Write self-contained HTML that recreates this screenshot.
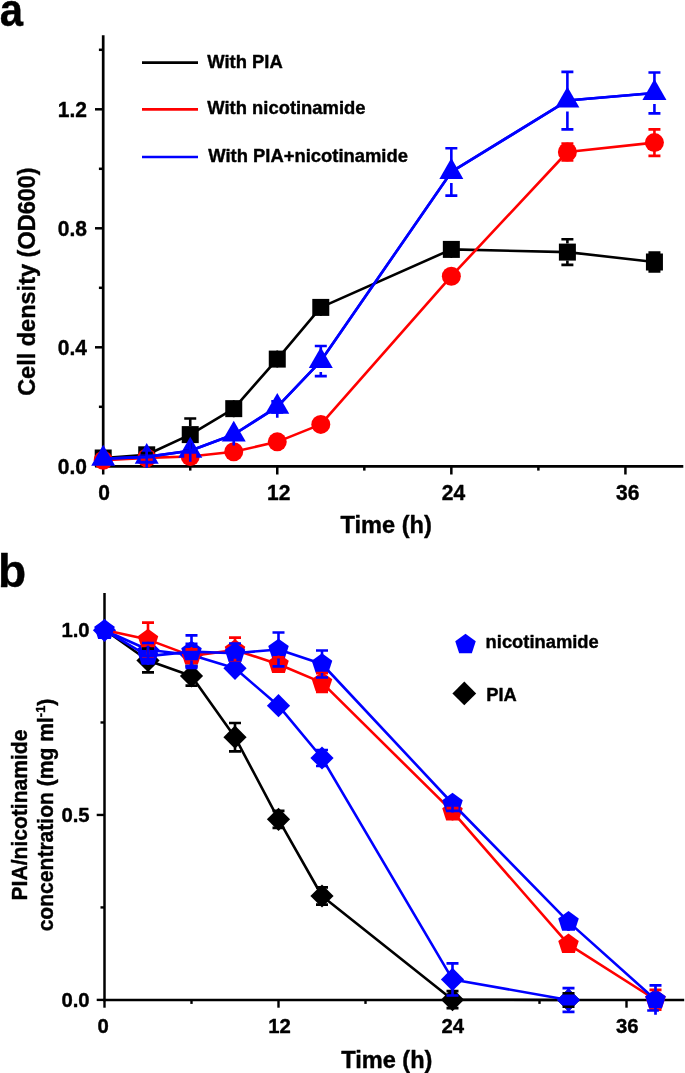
<!DOCTYPE html>
<html lang="en">
<head>
<meta charset="utf-8">
<title>Cell density and PIA/nicotinamide concentration</title>
<style>
html,body{margin:0;padding:0;background:#fff;}
body{width:685px;height:1073px;overflow:hidden;}
svg{display:block;}
svg text{font-family:"Liberation Sans",Arial,Helvetica,sans-serif;font-weight:bold;fill:#000;stroke:#000;stroke-width:0.4px;stroke-linejoin:round;}
</style>
</head>
<body>
<svg width="685" height="1073" viewBox="0 0 685 1073" role="img" aria-label="Growth curves and substrate concentration charts">
<rect width="685" height="1073" fill="#fff"/>
<!-- panel labels -->
<text font-size="46" transform="translate(-0.3,26.3) scale(0.91,1.01)">a</text>
<text x="-2" y="586.5" font-size="46">b</text>
<!-- panel a: axes -->
<g stroke="#000" stroke-width="2.7" fill="none">
<line x1="103.2" y1="35.2" x2="103.2" y2="467.65"/>
<line x1="101.85" y1="466.3" x2="683.3" y2="466.3"/>
</g>
<g stroke="#000" stroke-width="2.5" fill="none">
<line x1="103.2" y1="466.3" x2="103.2" y2="474.5"/>
<line x1="277.27" y1="466.3" x2="277.27" y2="474.5"/>
<line x1="451.34" y1="466.3" x2="451.34" y2="474.5"/>
<line x1="625.42" y1="466.3" x2="625.42" y2="474.5"/>
<line x1="190.24" y1="466.3" x2="190.24" y2="470.6"/>
<line x1="364.31" y1="466.3" x2="364.31" y2="470.6"/>
<line x1="538.38" y1="466.3" x2="538.38" y2="470.6"/>
<line x1="103.2" y1="466.3" x2="95" y2="466.3"/>
<line x1="103.2" y1="347.3" x2="95" y2="347.3"/>
<line x1="103.2" y1="228.3" x2="95" y2="228.3"/>
<line x1="103.2" y1="109.3" x2="95" y2="109.3"/>
<line x1="103.2" y1="406.8" x2="98.9" y2="406.8"/>
<line x1="103.2" y1="287.8" x2="98.9" y2="287.8"/>
<line x1="103.2" y1="168.8" x2="98.9" y2="168.8"/>
<line x1="103.2" y1="49.8" x2="98.9" y2="49.8"/>
</g>
<!-- panel a: tick labels and titles -->
<text transform="translate(87,474.2) scale(0.955,1)" font-size="22" text-anchor="end">0.0</text>
<text transform="translate(87,355.2) scale(0.955,1)" font-size="22" text-anchor="end">0.4</text>
<text transform="translate(87,236.2) scale(0.955,1)" font-size="22" text-anchor="end">0.8</text>
<text transform="translate(87,117.2) scale(0.955,1)" font-size="22" text-anchor="end">1.2</text>
<text transform="translate(104.2,500.2) scale(0.955,1)" font-size="22" text-anchor="middle">0</text>
<text transform="translate(278.67,500.2) scale(0.955,1)" font-size="22" text-anchor="middle">12</text>
<text transform="translate(453.44,500.2) scale(0.955,1)" font-size="22" text-anchor="middle">24</text>
<text transform="translate(627.72,500.2) scale(0.955,1)" font-size="22" text-anchor="middle">36</text>
<text transform="translate(386.2,533.3) scale(1.025,1)" font-size="23" text-anchor="middle">Time (h)</text>
<text font-size="23" text-anchor="middle" transform="translate(35,281.6) rotate(-90) scale(1.022,1)">Cell density (OD600)</text>
<!-- panel a: legend -->
<line x1="142" y1="62.6" x2="198" y2="62.6" stroke="#000000" stroke-width="2.6"/>
<text x="207.3" y="67.5" font-size="18.4">With PIA</text>
<line x1="142" y1="109.4" x2="198" y2="109.4" stroke="#ff0000" stroke-width="2.6"/>
<text x="207.3" y="114.3" font-size="18.4">With nicotinamide</text>
<line x1="142" y1="157" x2="198" y2="157" stroke="#0000ff" stroke-width="2.6"/>
<text x="208.3" y="161.9" font-size="18.4">With PIA+nicotinamide</text>
<!-- panel a: With PIA -->
<polyline points="103.2,458 146.72,454.8 190.24,434.6 233.75,408.65 277.27,359.1 320.79,307.4 451.34,249.4 567.39,252.1 654.43,262" stroke="#000000" stroke-width="2.6" fill="none" stroke-linejoin="round"/>
<rect x="94.7" y="449.5" width="17" height="17" fill="#000000"/>
<rect x="138.22" y="446.3" width="17" height="17" fill="#000000"/>
<rect x="181.74" y="426.1" width="17" height="17" fill="#000000"/>
<rect x="225.25" y="400.15" width="17" height="17" fill="#000000"/>
<rect x="268.77" y="350.6" width="17" height="17" fill="#000000"/>
<rect x="312.29" y="298.9" width="17" height="17" fill="#000000"/>
<rect x="442.84" y="240.9" width="17" height="17" fill="#000000"/>
<rect x="558.89" y="243.6" width="17" height="17" fill="#000000"/>
<rect x="645.93" y="253.5" width="17" height="17" fill="#000000"/>
<!-- panel a: With nicotinamide -->
<polyline points="103.2,460.3 146.72,457.9 190.24,456.5 233.75,451.8 277.27,441.85 320.79,424.4 451.34,276.2 567.39,152 654.43,142.6" stroke="#ff0000" stroke-width="2.6" fill="none" stroke-linejoin="round"/>
<circle cx="103.2" cy="460.3" r="9.5" fill="#ff0000"/>
<circle cx="146.72" cy="457.9" r="9.5" fill="#ff0000"/>
<circle cx="190.24" cy="456.5" r="9.5" fill="#ff0000"/>
<circle cx="233.75" cy="451.8" r="9.5" fill="#ff0000"/>
<circle cx="277.27" cy="441.85" r="9.5" fill="#ff0000"/>
<circle cx="320.79" cy="424.4" r="9.5" fill="#ff0000"/>
<circle cx="451.34" cy="276.2" r="9.5" fill="#ff0000"/>
<circle cx="567.39" cy="152" r="9.5" fill="#ff0000"/>
<circle cx="654.43" cy="142.6" r="9.5" fill="#ff0000"/>
<!-- panel a: With PIA+nicotinamide -->
<polyline points="103.2,458.7 146.72,456.9 190.24,450.7 233.75,434.5 277.27,406.8 320.79,361.05 451.34,171.97 567.39,100.55 654.43,92.95" stroke="#0000ff" stroke-width="2.6" fill="none" stroke-linejoin="round"/>
<polygon points="103.2,444.83 115.2,465.63 91.2,465.63" fill="#0000ff"/>
<polygon points="146.72,443.03 158.72,463.83 134.72,463.83" fill="#0000ff"/>
<polygon points="190.24,436.83 202.24,457.63 178.24,457.63" fill="#0000ff"/>
<polygon points="233.75,420.63 245.75,441.43 221.75,441.43" fill="#0000ff"/>
<polygon points="277.27,392.93 289.27,413.73 265.27,413.73" fill="#0000ff"/>
<polygon points="320.79,347.18 332.79,367.98 308.79,367.98" fill="#0000ff"/>
<polygon points="451.34,158.1 463.34,178.9 439.34,178.9" fill="#0000ff"/>
<polygon points="567.39,86.68 579.39,107.48 555.39,107.48" fill="#0000ff"/>
<polygon points="654.43,79.08 666.43,99.88 642.43,99.88" fill="#0000ff"/>
<!-- panel a: error bars -->
<path d="M146.72 446.3V453.1M146.72 463.3V456.5" stroke="#000000" stroke-width="1.8" fill="none"/>
<path d="M140.72 453.1H152.72M140.72 456.5H152.72" stroke="#000000" stroke-width="2.7" fill="none"/>
<path d="M190.24 426.1V418.5M190.24 443.1V450.7" stroke="#000000" stroke-width="2.6" fill="none"/>
<path d="M184.24 418.5H196.24M184.24 450.7H196.24" stroke="#000000" stroke-width="2.7" fill="none"/>
<path d="M233.75 400.15V407.65M233.75 417.15V409.65" stroke="#000000" stroke-width="1.8" fill="none"/>
<path d="M227.75 407.65H239.75M227.75 409.65H239.75" stroke="#000000" stroke-width="2.7" fill="none"/>
<path d="M277.27 350.6V358.1M277.27 367.6V360.1" stroke="#000000" stroke-width="1.8" fill="none"/>
<path d="M271.27 358.1H283.27M271.27 360.1H283.27" stroke="#000000" stroke-width="2.7" fill="none"/>
<path d="M320.79 298.9V306.4M320.79 315.9V308.4" stroke="#000000" stroke-width="1.8" fill="none"/>
<path d="M314.79 306.4H326.79M314.79 308.4H326.79" stroke="#000000" stroke-width="2.7" fill="none"/>
<path d="M451.34 240.9V248.4M451.34 257.9V250.4" stroke="#000000" stroke-width="1.8" fill="none"/>
<path d="M445.34 248.4H457.34M445.34 250.4H457.34" stroke="#000000" stroke-width="2.7" fill="none"/>
<path d="M567.39 243.6V239.25M567.39 260.6V264.95" stroke="#000000" stroke-width="2.6" fill="none"/>
<path d="M561.39 239.25H573.39M561.39 264.95H573.39" stroke="#000000" stroke-width="2.7" fill="none"/>
<path d="M654.43 253.5V252.7M654.43 270.5V271.3" stroke="#000000" stroke-width="2.6" fill="none"/>
<path d="M648.43 252.7H660.43M648.43 271.3H660.43" stroke="#000000" stroke-width="2.7" fill="none"/>
<path d="M146.72 449.4V459.5M146.72 466.4V459.5" stroke="#ff0000" stroke-width="1.8" fill="none"/>
<path d="M140.72 459.5H152.72M140.72 459.5H152.72" stroke="#ff0000" stroke-width="2.7" fill="none"/>
<path d="M190.24 448V455.1M190.24 465V457.9" stroke="#ff0000" stroke-width="1.8" fill="none"/>
<path d="M184.24 455.1H196.24M184.24 457.9H196.24" stroke="#ff0000" stroke-width="2.7" fill="none"/>
<path d="M233.75 443.3V449.8M233.75 460.3V453.8" stroke="#ff0000" stroke-width="1.8" fill="none"/>
<path d="M227.75 449.8H239.75M227.75 453.8H239.75" stroke="#ff0000" stroke-width="2.7" fill="none"/>
<path d="M277.27 433.35V439.85M277.27 450.35V443.85" stroke="#ff0000" stroke-width="1.8" fill="none"/>
<path d="M271.27 439.85H283.27M271.27 443.85H283.27" stroke="#ff0000" stroke-width="2.7" fill="none"/>
<path d="M320.79 415.9V422.4M320.79 432.9V426.4" stroke="#ff0000" stroke-width="1.8" fill="none"/>
<path d="M314.79 422.4H326.79M314.79 426.4H326.79" stroke="#ff0000" stroke-width="2.7" fill="none"/>
<path d="M451.34 267.7V274.2M451.34 284.7V278.2" stroke="#ff0000" stroke-width="1.8" fill="none"/>
<path d="M445.34 274.2H457.34M445.34 278.2H457.34" stroke="#ff0000" stroke-width="2.7" fill="none"/>
<path d="M567.39 143.5V143.5M567.39 160.5V160.5" stroke="#ff0000" stroke-width="2.6" fill="none"/>
<path d="M561.39 143.5H573.39M561.39 160.5H573.39" stroke="#ff0000" stroke-width="2.7" fill="none"/>
<path d="M654.43 134.1V129.3M654.43 151.1V155.9" stroke="#ff0000" stroke-width="2.6" fill="none"/>
<path d="M648.43 129.3H660.43M648.43 155.9H660.43" stroke="#ff0000" stroke-width="2.7" fill="none"/>
<polyline points="103.2,458.7 146.72,456.9 190.24,450.7 233.75,434.5 277.27,406.8 320.79,361.05 451.34,171.97 567.39,100.55 654.43,92.95" stroke="#0000ff" stroke-width="2.6" fill="none" stroke-linejoin="round"/>
<path d="M146.72 445.9V456.9M146.72 467.9V456.9" stroke="#0000ff" stroke-width="2.6" fill="none"/>
<path d="M140.72 456.9H152.72M140.72 456.9H152.72" stroke="#0000ff" stroke-width="2.7" fill="none"/>
<path d="M190.24 439.7V450.7M190.24 461.7V450.7" stroke="#0000ff" stroke-width="2.6" fill="none"/>
<path d="M184.24 450.7H196.24M184.24 450.7H196.24" stroke="#0000ff" stroke-width="2.7" fill="none"/>
<path d="M233.75 423.5V434.5M233.75 445.5V434.5" stroke="#0000ff" stroke-width="2.6" fill="none"/>
<path d="M227.75 434.5H239.75M227.75 434.5H239.75" stroke="#0000ff" stroke-width="2.7" fill="none"/>
<path d="M277.27 395.8V401.3M277.27 417.8V412.3" stroke="#0000ff" stroke-width="2.6" fill="none"/>
<path d="M271.27 401.3H283.27M271.27 412.3H283.27" stroke="#0000ff" stroke-width="2.7" fill="none"/>
<path d="M320.79 350.05V346M320.79 372.05V376.1" stroke="#0000ff" stroke-width="2.6" fill="none"/>
<path d="M314.79 346H326.79M314.79 376.1H326.79" stroke="#0000ff" stroke-width="2.7" fill="none"/>
<path d="M451.34 160.97V148.27M451.34 182.97V195.67" stroke="#0000ff" stroke-width="2.6" fill="none"/>
<path d="M445.34 148.27H457.34M445.34 195.67H457.34" stroke="#0000ff" stroke-width="2.7" fill="none"/>
<path d="M567.39 89.55V71.8M567.39 111.55V129.3" stroke="#0000ff" stroke-width="2.6" fill="none"/>
<path d="M561.39 71.8H573.39M561.39 129.3H573.39" stroke="#0000ff" stroke-width="2.7" fill="none"/>
<path d="M654.43 81.95V72.5M654.43 103.95V113.4" stroke="#0000ff" stroke-width="2.6" fill="none"/>
<path d="M648.43 72.5H660.43M648.43 113.4H660.43" stroke="#0000ff" stroke-width="2.7" fill="none"/>
<!-- panel b: axes -->
<g stroke="#000" stroke-width="2.5" fill="none">
<line x1="104.5" y1="593.1" x2="104.5" y2="1001.15"/>
<line x1="103.25" y1="999.9" x2="684.2" y2="999.9"/>
</g>
<g stroke="#000" stroke-width="2.4" fill="none">
<line x1="104.5" y1="999.9" x2="104.5" y2="1007.7"/>
<line x1="278.5" y1="999.9" x2="278.5" y2="1007.7"/>
<line x1="452.5" y1="999.9" x2="452.5" y2="1007.7"/>
<line x1="626.5" y1="999.9" x2="626.5" y2="1007.7"/>
<line x1="191.5" y1="999.9" x2="191.5" y2="1003.9"/>
<line x1="365.5" y1="999.9" x2="365.5" y2="1003.9"/>
<line x1="539.5" y1="999.9" x2="539.5" y2="1003.9"/>
<line x1="104.5" y1="999.9" x2="96.7" y2="999.9"/>
<line x1="104.5" y1="814.95" x2="96.7" y2="814.95"/>
<line x1="104.5" y1="630" x2="96.7" y2="630"/>
<line x1="104.5" y1="907.42" x2="100.5" y2="907.42"/>
<line x1="104.5" y1="722.48" x2="100.5" y2="722.48"/>
</g>
<!-- panel b: tick labels and titles -->
<text transform="translate(89.6,1007.1) scale(0.967,1)" font-size="21" text-anchor="end">0.0</text>
<text transform="translate(89.6,822.15) scale(0.967,1)" font-size="21" text-anchor="end">0.5</text>
<text transform="translate(89.6,637.2) scale(0.967,1)" font-size="21" text-anchor="end">1.0</text>
<text transform="translate(103.1,1033.1) scale(0.967,1)" font-size="21" text-anchor="middle">0</text>
<text transform="translate(279.6,1033.1) scale(0.967,1)" font-size="21" text-anchor="middle">12</text>
<text transform="translate(452.8,1033.1) scale(0.967,1)" font-size="21" text-anchor="middle">24</text>
<text transform="translate(627.2,1033.1) scale(0.967,1)" font-size="21" text-anchor="middle">36</text>
<text transform="translate(386.8,1067.6) scale(1.025,1)" font-size="23" text-anchor="middle">Time (h)</text>
<text font-size="22" text-anchor="middle" transform="translate(27.3,815) rotate(-90) scale(0.958,1)">PIA/nicotinamide</text>
<text font-size="22" text-anchor="middle" transform="translate(53,815) rotate(-90) scale(0.958,1)">concentration (mg ml<tspan dy="-8.5" font-size="13.5">-1</tspan><tspan dy="8.5">)</tspan></text>
<!-- panel b: legend -->
<polygon points="465.5,633.7 475.77,641.16 471.85,653.24 459.15,653.24 455.23,641.16" fill="#0000ff"/>
<text transform="translate(485.6,647.9) scale(0.992,1)" font-size="18.5">nicotinamide</text>
<polygon points="464.3,681.5 476.2,693.4 464.3,705.3 452.4,693.4" fill="#000000"/>
<text transform="translate(486.2,701.1) scale(0.99,1)" font-size="18.5">PIA</text>
<!-- panel b: PIA (alone) -->
<polyline points="104.5,629.8 148,660.45 191.5,675.9 235,737.2 278.5,819.3 322,896 452.5,999.65 568.5,1000" stroke="#000000" stroke-width="2.6" fill="none" stroke-linejoin="round"/>
<polygon points="148,648.85 159.6,660.45 148,672.05 136.4,660.45" fill="#000000"/>
<polygon points="191.5,664.3 203.1,675.9 191.5,687.5 179.9,675.9" fill="#000000"/>
<polygon points="235,725.6 246.6,737.2 235,748.8 223.4,737.2" fill="#000000"/>
<polygon points="278.5,807.7 290.1,819.3 278.5,830.9 266.9,819.3" fill="#000000"/>
<polygon points="322,884.4 333.6,896 322,907.6 310.4,896" fill="#000000"/>
<polygon points="452.5,988.05 464.1,999.65 452.5,1011.25 440.9,999.65" fill="#000000"/>
<polygon points="568.5,988.4 580.1,1000 568.5,1011.6 556.9,1000" fill="#000000"/>
<!-- panel b: PIA (mixture) -->
<polyline points="104.5,630.3 148,649.8 191.5,655 235,668.3 278.5,705.7 322,758 452.5,979.45 568.5,1000" stroke="#0000ff" stroke-width="2.6" fill="none" stroke-linejoin="round"/>
<polygon points="104.5,618.7 116.1,630.3 104.5,641.9 92.9,630.3" fill="#0000ff"/>
<polygon points="148,638.2 159.6,649.8 148,661.4 136.4,649.8" fill="#0000ff"/>
<polygon points="191.5,643.4 203.1,655 191.5,666.6 179.9,655" fill="#0000ff"/>
<polygon points="235,656.7 246.6,668.3 235,679.9 223.4,668.3" fill="#0000ff"/>
<polygon points="278.5,694.1 290.1,705.7 278.5,717.3 266.9,705.7" fill="#0000ff"/>
<polygon points="322,746.4 333.6,758 322,769.6 310.4,758" fill="#0000ff"/>
<polygon points="452.5,967.85 464.1,979.45 452.5,991.05 440.9,979.45" fill="#0000ff"/>
<polygon points="568.5,988.4 580.1,1000 568.5,1011.6 556.9,1000" fill="#0000ff"/>
<!-- panel b: nicotinamide (alone) -->
<polyline points="104.5,630 148,639.6 191.5,655.85 235,650 278.5,664.2 322,682.6 452.5,811.7 568.5,944.3 655.5,999.75" stroke="#ff0000" stroke-width="2.6" fill="none" stroke-linejoin="round"/>
<polygon points="148,628.8 158.27,636.26 154.35,648.34 141.65,648.34 137.73,636.26" fill="#ff0000"/>
<polygon points="191.5,645.05 201.77,652.51 197.85,664.59 185.15,664.59 181.23,652.51" fill="#ff0000"/>
<polygon points="235,639.2 245.27,646.66 241.35,658.74 228.65,658.74 224.73,646.66" fill="#ff0000"/>
<polygon points="278.5,653.4 288.77,660.86 284.85,672.94 272.15,672.94 268.23,660.86" fill="#ff0000"/>
<polygon points="322,671.8 332.27,679.26 328.35,691.34 315.65,691.34 311.73,679.26" fill="#ff0000"/>
<polygon points="452.5,800.9 462.77,808.36 458.85,820.44 446.15,820.44 442.23,808.36" fill="#ff0000"/>
<polygon points="568.5,933.5 578.77,940.96 574.85,953.04 562.15,953.04 558.23,940.96" fill="#ff0000"/>
<polygon points="655.5,988.95 665.77,996.41 661.85,1008.49 649.15,1008.49 645.23,996.41" fill="#ff0000"/>
<!-- panel b: nicotinamide (mixture) -->
<polyline points="104.5,630.2 148,656.1 191.5,651.6 235,653.2 278.5,649.45 322,664 452.5,803.5 568.5,921.9 655.5,999.7" stroke="#0000ff" stroke-width="2.6" fill="none" stroke-linejoin="round"/>
<polygon points="104.5,619.4 114.77,626.86 110.85,638.94 98.15,638.94 94.23,626.86" fill="#0000ff"/>
<polygon points="148,645.3 158.27,652.76 154.35,664.84 141.65,664.84 137.73,652.76" fill="#0000ff"/>
<polygon points="191.5,640.8 201.77,648.26 197.85,660.34 185.15,660.34 181.23,648.26" fill="#0000ff"/>
<polygon points="235,642.4 245.27,649.86 241.35,661.94 228.65,661.94 224.73,649.86" fill="#0000ff"/>
<polygon points="278.5,638.65 288.77,646.11 284.85,658.19 272.15,658.19 268.23,646.11" fill="#0000ff"/>
<polygon points="322,653.2 332.27,660.66 328.35,672.74 315.65,672.74 311.73,660.66" fill="#0000ff"/>
<polygon points="452.5,792.7 462.77,800.16 458.85,812.24 446.15,812.24 442.23,800.16" fill="#0000ff"/>
<polygon points="568.5,911.1 578.77,918.56 574.85,930.64 562.15,930.64 558.23,918.56" fill="#0000ff"/>
<polygon points="655.5,988.9 665.77,996.36 661.85,1008.44 649.15,1008.44 645.23,996.36" fill="#0000ff"/>
<!-- panel b: error bars -->
<path d="M148 651.45V648.6M148 669.45V672.3" stroke="#000000" stroke-width="2.6" fill="none"/>
<path d="M142 648.6H154M142 672.3H154" stroke="#000000" stroke-width="2.7" fill="none"/>
<path d="M191.5 666.9V666.1M191.5 684.9V685.7" stroke="#000000" stroke-width="2.6" fill="none"/>
<path d="M185.5 666.1H197.5M185.5 685.7H197.5" stroke="#000000" stroke-width="2.7" fill="none"/>
<path d="M235 728.2V723M235 746.2V751.4" stroke="#000000" stroke-width="2.6" fill="none"/>
<path d="M229 723H241M229 751.4H241" stroke="#000000" stroke-width="2.7" fill="none"/>
<path d="M278.5 810.3V810.8M278.5 828.3V827.8" stroke="#000000" stroke-width="1.8" fill="none"/>
<path d="M272.5 810.8H284.5M272.5 827.8H284.5" stroke="#000000" stroke-width="2.7" fill="none"/>
<path d="M322 887V887.3M322 905V904.7" stroke="#000000" stroke-width="1.8" fill="none"/>
<path d="M316 887.3H328M316 904.7H328" stroke="#000000" stroke-width="2.7" fill="none"/>
<path d="M452.5 990.65V991.1M452.5 1008.65V1008.2" stroke="#000000" stroke-width="1.8" fill="none"/>
<path d="M446.5 991.1H458.5M446.5 1008.2H458.5" stroke="#000000" stroke-width="2.7" fill="none"/>
<path d="M568.5 991V993.25M568.5 1009V1006.75" stroke="#000000" stroke-width="1.8" fill="none"/>
<path d="M562.5 993.25H574.5M562.5 1006.75H574.5" stroke="#000000" stroke-width="2.7" fill="none"/>
<path d="M148 641.8V643M148 657.8V656.6" stroke="#0000ff" stroke-width="2.6" fill="none"/>
<path d="M142 643H154M142 656.6H154" stroke="#0000ff" stroke-width="2.7" fill="none"/>
<path d="M191.5 647V643.9M191.5 663V666.1" stroke="#0000ff" stroke-width="2.6" fill="none"/>
<path d="M185.5 643.9H197.5M185.5 666.1H197.5" stroke="#0000ff" stroke-width="2.7" fill="none"/>
<path d="M235 660.3V665.3M235 676.3V671.3" stroke="#0000ff" stroke-width="2.6" fill="none"/>
<path d="M229 665.3H241M229 671.3H241" stroke="#0000ff" stroke-width="2.7" fill="none"/>
<path d="M278.5 697.7V702.7M278.5 713.7V708.7" stroke="#0000ff" stroke-width="2.6" fill="none"/>
<path d="M272.5 702.7H284.5M272.5 708.7H284.5" stroke="#0000ff" stroke-width="2.7" fill="none"/>
<path d="M322 750V750M322 766V766" stroke="#0000ff" stroke-width="2.6" fill="none"/>
<path d="M316 750H328M316 766H328" stroke="#0000ff" stroke-width="2.7" fill="none"/>
<path d="M452.5 971.45V963.4M452.5 987.45V995.5" stroke="#0000ff" stroke-width="2.6" fill="none"/>
<path d="M446.5 963.4H458.5M446.5 995.5H458.5" stroke="#0000ff" stroke-width="2.7" fill="none"/>
<path d="M568.5 992V988.05M568.5 1008V1011.95" stroke="#0000ff" stroke-width="2.6" fill="none"/>
<path d="M562.5 988.05H574.5M562.5 1011.95H574.5" stroke="#0000ff" stroke-width="2.7" fill="none"/>
<path d="M148 630.8V622.6M148 648.4V656.6" stroke="#ff0000" stroke-width="2.6" fill="none"/>
<path d="M142 622.6H154M142 656.6H154" stroke="#ff0000" stroke-width="2.7" fill="none"/>
<path d="M191.5 647.05V649.3M191.5 664.65V662.4" stroke="#ff0000" stroke-width="1.8" fill="none"/>
<path d="M185.5 649.3H197.5M185.5 662.4H197.5" stroke="#ff0000" stroke-width="2.7" fill="none"/>
<path d="M235 641.2V637.6M235 658.8V662.4" stroke="#ff0000" stroke-width="2.6" fill="none"/>
<path d="M229 637.6H241M229 662.4H241" stroke="#ff0000" stroke-width="2.7" fill="none"/>
<path d="M278.5 655.4V657.3M278.5 673V671.1" stroke="#ff0000" stroke-width="1.8" fill="none"/>
<path d="M272.5 657.3H284.5M272.5 671.1H284.5" stroke="#ff0000" stroke-width="2.7" fill="none"/>
<path d="M322 673.8V673.2M322 691.4V692" stroke="#ff0000" stroke-width="2.6" fill="none"/>
<path d="M316 673.2H328M316 692H328" stroke="#ff0000" stroke-width="2.7" fill="none"/>
<path d="M452.5 802.9V808.2M452.5 820.5V815.2" stroke="#ff0000" stroke-width="1.8" fill="none"/>
<path d="M446.5 808.2H458.5M446.5 815.2H458.5" stroke="#ff0000" stroke-width="2.7" fill="none"/>
<path d="M568.5 935.5V942.3M568.5 953.1V946.3" stroke="#ff0000" stroke-width="1.8" fill="none"/>
<path d="M562.5 942.3H574.5M562.5 946.3H574.5" stroke="#ff0000" stroke-width="2.7" fill="none"/>
<path d="M655.5 990.95V989.8M655.5 1008.55V1009.7" stroke="#ff0000" stroke-width="2.6" fill="none"/>
<path d="M649.5 989.8H661.5M649.5 1009.7H661.5" stroke="#ff0000" stroke-width="2.7" fill="none"/>
<path d="M148 647.1V656.1M148 665.1V656.1" stroke="#0000ff" stroke-width="2.6" fill="none"/>
<path d="M142 656.1H154M142 656.1H154" stroke="#0000ff" stroke-width="2.7" fill="none"/>
<path d="M191.5 642.6V635.4M191.5 660.6V667.8" stroke="#0000ff" stroke-width="2.6" fill="none"/>
<path d="M185.5 635.4H197.5M185.5 667.8H197.5" stroke="#0000ff" stroke-width="2.7" fill="none"/>
<path d="M235 644.2V643.5M235 662.2V662.9" stroke="#0000ff" stroke-width="2.6" fill="none"/>
<path d="M229 643.5H241M229 662.9H241" stroke="#0000ff" stroke-width="2.7" fill="none"/>
<path d="M278.5 640.45V632.5M278.5 658.45V666.4" stroke="#0000ff" stroke-width="2.6" fill="none"/>
<path d="M272.5 632.5H284.5M272.5 666.4H284.5" stroke="#0000ff" stroke-width="2.7" fill="none"/>
<path d="M322 655V650.5M322 673V677.5" stroke="#0000ff" stroke-width="2.6" fill="none"/>
<path d="M316 650.5H328M316 677.5H328" stroke="#0000ff" stroke-width="2.7" fill="none"/>
<path d="M452.5 794.5V803M452.5 812.5V804" stroke="#0000ff" stroke-width="2.6" fill="none"/>
<path d="M446.5 803H458.5M446.5 804H458.5" stroke="#0000ff" stroke-width="2.7" fill="none"/>
<path d="M568.5 912.9V919.9M568.5 930.9V923.9" stroke="#0000ff" stroke-width="2.6" fill="none"/>
<path d="M562.5 919.9H574.5M562.5 923.9H574.5" stroke="#0000ff" stroke-width="2.7" fill="none"/>
<path d="M655.5 991V985.4M649.5 985.4H661.5M655.5 1007V1014.8M647.2 1010.5H658.9" stroke="#0000ff" stroke-width="2.7" fill="none"/>
</svg>
</body>
</html>
